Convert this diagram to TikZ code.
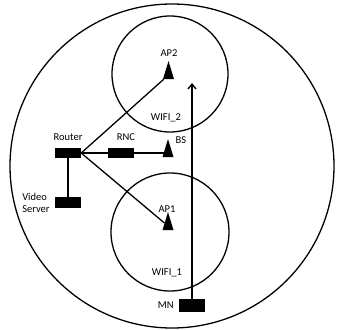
\documentclass[tikz,border=0pt]{standalone}
\usepackage{fontspec}
\setmainfont{Carlito}
\usepackage{tikz}
\usetikzlibrary{arrows.meta, positioning, shapes.geometric}

\begin{document}
\begin{tikzpicture}[x=1pt, y=-1pt,
    cell/.style={circle, draw=black, line width=1.3pt, minimum size=#1, inner sep=0pt},
    cell/.default={116pt},
    device/.style={rectangle, fill=black, minimum width=26pt, minimum height=#1, inner sep=0pt},
    device/.default={10pt},
    antenna/.style={isosceles triangle, isosceles triangle stretches, shape border rotate=90, fill=black, minimum width=11pt, minimum height=18pt, inner sep=0pt},
    link/.style={line width=1.3pt, #1},
    link/.default={black},
    tag/.style={font=\fontsize{10.5}{12}\selectfont, inner sep=1pt, #1},
    tag/.default={black}
]
\useasboundingbox (0,0) rectangle (337,329);

% === CELDAS ===
\node[cell=324pt] (macro) at (172,166) {};
\node[cell] (wifi2) at (170,74) {};
\node[cell=118pt] (wifi1) at (170,232) {};

% === EQUIPOS ===
\node[device] (router) at (68,153) {};
\node[device] (rnc) at (121,153) {};
\node[device=11pt] (video) at (68,202.5) {};
\node[device=13pt] (mn) at (192,305.5) {};

\node[antenna] (ap2) at (168.5,75) {};
\node[antenna] (ap1) at (168,226) {};
\node[antenna] (bs) at (168,153) {};

% === ETIQUETAS ===
\node[tag] at (68,137) {Router};
\node[tag] at (126,137) {RNC};
\node[tag] at (181,140) {BS};
\node[tag] at (169,53) {AP2};
\node[tag] at (167,209) {AP1};
\node[tag] at (166,118) {WIFI\_2};
\node[tag] at (167,273) {WIFI\_1};
\node[tag, left=4pt of mn] {MN};
\node[tag, align=left, left=4pt of video] {Video\\Server};

% === ENLACES ===
\draw[link] (router.east) -- (ap2);
\draw[link] (router.east) -- (ap1);
\draw[link] (router) -- (rnc);
\draw[link] (rnc) -- (bs);
\draw[link] (router.south) -- (video.north);

% movimiento del MN
\coordinate (handover) at (192,83);
\draw[link, -{Straight Barb[length=5pt, width=8pt]}] (mn.north) -- (handover);

\end{tikzpicture}
\end{document}
